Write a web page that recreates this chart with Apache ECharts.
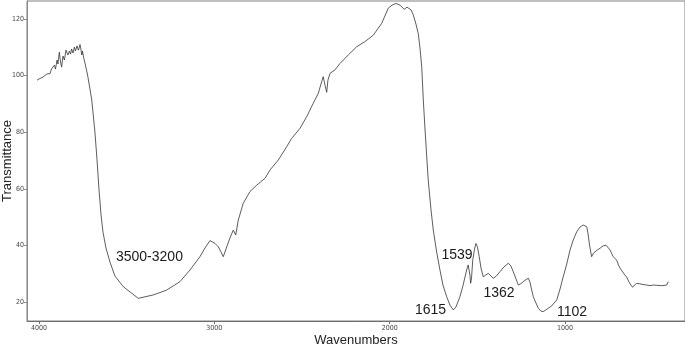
<!DOCTYPE html>
<html>
<head>
<meta charset="utf-8">
<script src="https://cdn.jsdelivr.net/npm/echarts@6/dist/echarts.min.js"></script>
<style>html,body{margin:0;padding:0;background:#fff}#c{width:685px;height:346px}</style>
</head>
<body>
<div id="c"></div>
<script>
const wavenumbers = [4011,3994,3977,3966,3954,3946,3937,3929,3920,3912,3906,3897,3892,3884,3877,3871,3863,3855,3846,3842,3835,3826,3820,3814,3806,3798,3792,3783,3775,3766,3760,3756,3752,3746,3738,3729,3720,
3699,3681,3669,3658,3646,3635,3618,3595,3567,3519,3471,3434,3348,3272,3196,3139,3082,3053,3025,2996,2977,2962,2949,2929,2911,2892,2878,2863,2835,2797,2758,2711,2683,2635,2587,2559,2511,2473,2436,2407,2388,2379,2369,2359,2352,2340,2312,2283,2236,2188,2141,2093,2045,2008,1987,1964,1941,1917,1901,1890,1878,1865,1850,1837,1827,1817,1808,1798,1780,1764,1751,1732,1713,1696,1675,1656,1637,1622,1599,1582,1561,1552,1542,1538,1533,1526,1516,1508,1499,1489,1479,1466,1453,1437,1422,1409,1391,1371,1348,1323,1308,1295,1279,1266,1251,1238,1222,1209,1200,1191,1181,1168,1152,1137,1124,1114,1095,1076,1063,1047,1028,1010,990,971,953,933,914,896,886,876,869,860,848,837,829,815,800,783,766,755,743,725,705,695,686,677,663,648,635,624,614,604,591,572,555,534,515,496,477,458,441,420,411];
const transmittance = [98.4,99.0,99.5,100.0,100.6,101.3,100.7,102.3,101.6,103.7,102.3,105.5,104.1,108.3,104.8,103.0,106.9,105.5,109.0,109.6,107.3,108.7,107.6,109.4,108.0,110.1,108.7,110.5,109.0,111.0,109.0,107.3,108.7,106.6,104.5,102.0,99.2,
91.4,80.1,70.2,59.9,50.7,44.7,39.1,34.1,29.2,25.4,23.1,21.3,22.5,24.2,27.2,31.3,36.0,39.1,41.7,40.7,39.5,37.7,36.0,39.5,42.6,45.4,43.7,49.0,54.9,59.0,61.3,63.7,66.6,70.2,74.9,77.8,81.4,85.5,90.2,93.7,97.8,99.6,96.7,94.1,98.4,100.8,102.0,104.3,107.3,110.2,112.0,114.3,118.5,123.8,124.9,125.5,124.9,123.4,124.2,124.7,123.2,121.4,118.2,114.9,109.8,103.1,91.4,80.8,63.1,52.5,45.4,37.7,31.3,26.0,21.9,18.9,17.2,18.2,21.9,25.7,31.3,33.1,29.5,26.6,28.5,34.8,38.7,40.7,39.4,36.0,32.0,28.9,29.5,30.1,29.2,28.4,29.2,30.7,32.4,33.7,32.7,30.7,28.1,26.0,26.5,27.2,27.9,28.4,27.1,24.6,21.9,20.0,17.8,16.8,16.6,16.6,17.8,18.6,19.6,20.7,24.6,28.9,33.4,38.4,41.9,44.8,46.5,47.2,47.4,46.6,44.4,40.1,36.0,37.3,37.8,38.4,39.0,39.8,40.1,39.4,38.4,36.0,34.8,33.1,32.0,31.3,29.9,28.8,27.1,26.0,25.2,26.0,26.6,26.4,26.2,26.0,25.8,26.0,25.9,25.8,25.8,26.0,27.2];
const xTicks = [4000, 3000, 2000, 1000];
const yTicks = [20, 40, 60, 80, 100, 120];
const annoText = ['3500-3200', '1539', '1615', '1362', '1102'];
const annoWn = [3370, 1616, 1767, 1376, 960];
const annoT = [35.9, 36.6, 17.2, 23.2, 16.5];

const seriesData = wavenumbers.map((w, i) => [w, transmittance[i]]);
const markData = annoText.map((t, i) => ({ name: t, coord: [annoWn[i], annoT[i]] }));

const chart = echarts.init(document.getElementById('c'), null, { renderer: 'canvas' });
chart.setOption({
  animation: false,
  backgroundColor: '#fff',
  grid: { left: 27, right: 0, top: 1, bottom: 25, containLabel: false, outerBoundsMode: 'none', show: true, borderColor: '#808080', borderWidth: 1, backgroundColor: 'transparent' },
  xAxis: {
    type: 'value', inverse: true, min: 315.4, max: 4068.4,
    name: 'Wavenumbers', nameLocation: 'middle', nameGap: 13, nameMoveOverlap: false,
    nameTextStyle: { fontFamily: 'Liberation Sans, Arial, sans-serif', fontSize: 13, color: '#222' },
    axisLine: { show: true, lineStyle: { color: '#6e6e6e', width: 1 } },
    axisTick: { show: true, length: 3, customValues: xTicks, lineStyle: { color: '#6e6e6e' } },
    axisLabel: { customValues: xTicks, formatter: v => String(v), fontSize: 7, color: '#444', margin: 4, fontFamily: 'DejaVu Sans Condensed, Liberation Sans Narrow, sans-serif' },
    splitLine: { show: false }
  },
  yAxis: {
    type: 'value', min: 13.29, max: 126.36,
    name: 'Transmittance', nameLocation: 'middle', nameGap: 13, nameMoveOverlap: false,
    nameTextStyle: { fontFamily: 'Liberation Sans, Arial, sans-serif', fontSize: 13, color: '#222' },
    axisLine: { show: true, lineStyle: { color: '#8a8a8a', width: 1 } },
    axisTick: { show: true, length: 3, customValues: yTicks, lineStyle: { color: '#8a8a8a' } },
    axisLabel: { customValues: yTicks, formatter: v => String(v), fontSize: 7, color: '#444', margin: 3, fontFamily: 'DejaVu Sans Condensed, Liberation Sans Narrow, sans-serif' },
    splitLine: { show: false }
  },
  series: [{
    type: 'line',
    data: seriesData,
    showSymbol: false,
    smooth: false,
    lineStyle: { color: '#333', width: 0.8 },
    markPoint: {
      symbol: 'rect', symbolSize: 1,
      itemStyle: { color: 'rgba(0,0,0,0)' },
      label: { show: true, position: 'inside', formatter: p => p.name, fontSize: 14, color: '#1a1a1a', fontFamily: 'Liberation Sans, Arial, sans-serif' },
      data: markData
    }
  }]
});
</script>
</body>
</html>
